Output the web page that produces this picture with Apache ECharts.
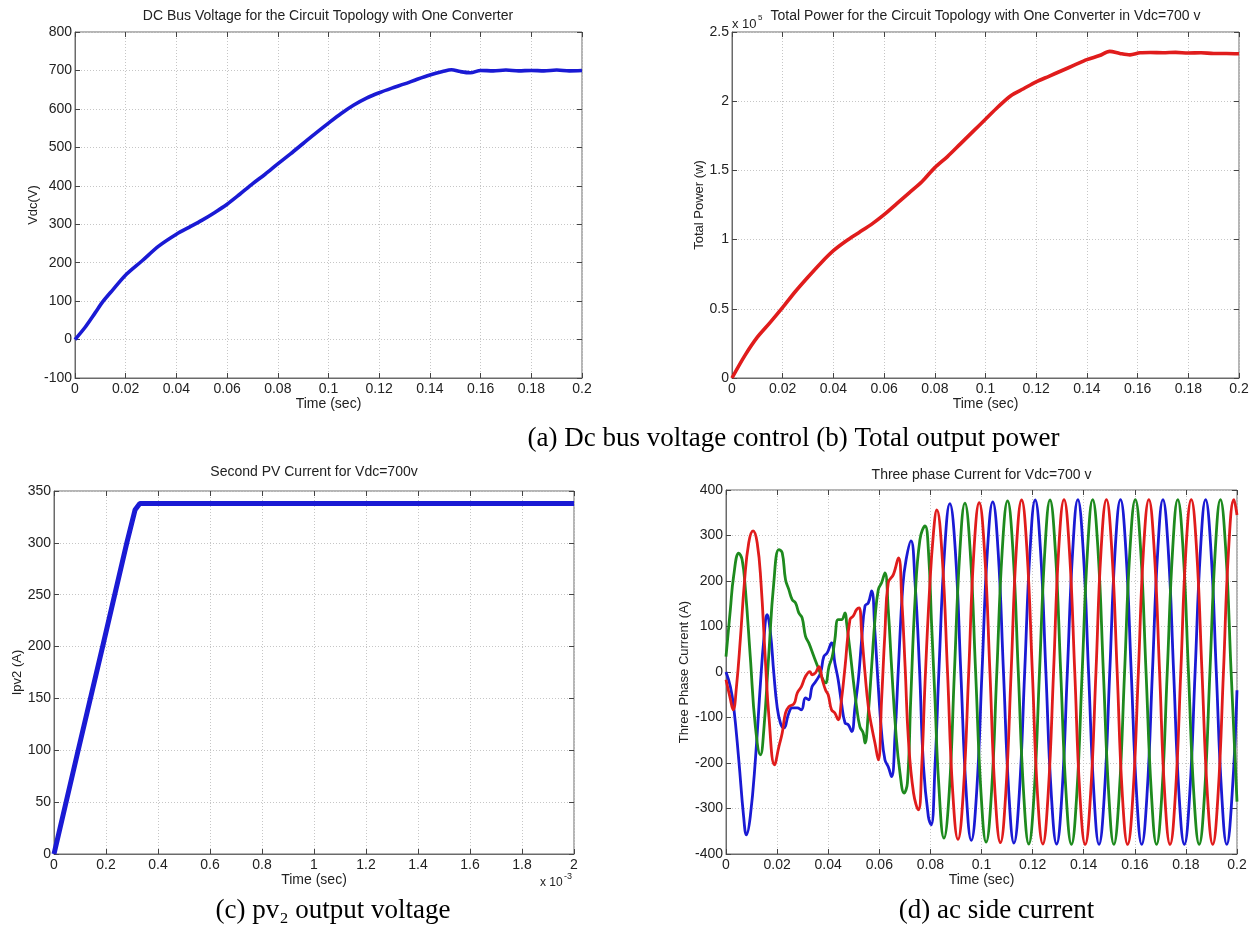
<!DOCTYPE html>
<html><head><meta charset="utf-8">
<script src="https://cdn.jsdelivr.net/npm/echarts@6/dist/echarts.min.js"></script>
<style>html,body{margin:0;padding:0;background:#fff}#c{width:1253px;height:930px}</style>
</head><body><div id="c"></div>
<script>
// ---------- DATA ----------
// (a) DC bus voltage [time s, Vdc V]
const vdcData = [[0,0],[0.004,32],[0.008,70],[0.0109,98],[0.015,130],[0.02,168],[0.0265,205],[0.033,243],[0.04,274],[0.045,292],[0.05,310],[0.055,330],[0.06,352],[0.065,378],[0.07,405],[0.075,430],[0.08,457],[0.085,483],[0.09,510],[0.095,537],[0.1,563],[0.105,588],[0.11,610],[0.115,628],[0.12,642],[0.125,654],[0.13,665],[0.135,677],[0.14,688],[0.145,697],[0.1485,702],[0.152,697],[0.156,694],[0.16,700],[0.165,699],[0.17,701],[0.175,699],[0.18,700],[0.185,699],[0.19,701],[0.195,699],[0.2,700]];
// (b) Total power [time s, W]
const powerData = [[0,0],[0.005,16000],[0.01,29500],[0.015,40000],[0.02,51000],[0.025,62500],[0.03,73000],[0.035,83000],[0.04,92000],[0.045,99000],[0.05,105000],[0.055,111000],[0.06,118000],[0.065,126000],[0.07,134000],[0.075,142000],[0.08,152000],[0.085,160000],[0.09,169000],[0.095,178000],[0.1,187000],[0.105,196000],[0.11,204000],[0.115,209000],[0.12,214000],[0.125,218000],[0.13,222000],[0.135,226000],[0.14,230000],[0.145,233000],[0.149,236000],[0.153,234500],[0.157,233500],[0.161,235000],[0.165,235200],[0.17,235000],[0.175,235300],[0.18,234800],[0.185,235000],[0.19,234500],[0.195,234500],[0.2,234300]];
// (c) Second PV current [time s, A]
const ipvData = [[0,0],[0.000093,100],[0.000187,200],[0.00028,300],[0.000312,332],[0.00033,338],[0.0006,338],[0.001,338],[0.0016,338],[0.002,338]];
// (d) Three-phase currents [time s, A]
const currentBlue = [[0,0],[0.0017,-32],[0.0030,-76],[0.0050,-193],[0.0069,-318],[0.0080,-358],[0.0095,-318],[0.0115,-193],[0.0135,-24],[0.0148,71],[0.0161,126],[0.0174,86],[0.0187,-2],[0.0200,-76],[0.0213,-112],[0.0226,-123],[0.0246,-90],[0.0259,-79],[0.0279,-79],[0.0295,-83],[0.0311,-57],[0.0324,-61],[0.0337,-32],[0.0351,-21],[0.0370,-2],[0.0383,34],[0.0396,42],[0.0413,64],[0.0426,20],[0.0439,-17],[0.0452,-68],[0.0466,-112],[0.0479,-116],[0.0492,-131],[0.0505,-76],[0.0518,-17],[0.0531,71],[0.0544,145],[0.0557,152],[0.0570,178],[0.0583,86],[0.0596,-32],[0.0609,-134],[0.0622,-193],[0.0635,-208],[0.0648,-230],[0.0662,-134],[0.0675,12],[0.0692,189],[0.0705,247],[0.0724,288],[0.0740,196],[0.0757,12],[0.0773,-208],[0.0792,-318],[0.0803,-336],[0.0818,-208],[0.0834,12],[0.0855,262],[0.0876,370],
[0.0898,263],[0.0919,0],[0.0940,-263],[0.0960,-370],[0.0981,-264],[0.1002,0],[0.1023,265],[0.1044,374],
[0.1065,266],[0.1086,0],[0.1107,-266],[0.1127,-376],[0.1148,-267],[0.1169,0],[0.1190,267],[0.1210,378],
[0.1231,267],[0.1252,0],[0.1273,-267],[0.1294,-378],[0.1315,-267],[0.1336,0],[0.1357,267],[0.1377,379],
[0.1398,268],[0.1419,0],[0.1440,-268],[0.1460,-379],[0.1481,-268],[0.1502,0],[0.1523,268],[0.1544,379],
[0.1565,268],[0.1586,0],[0.1607,-268],[0.1627,-379],[0.1648,-268],[0.1669,0],[0.1690,268],[0.1710,379],
[0.1731,268],[0.1752,0],[0.1773,-268],[0.1794,-379],[0.1815,-268],[0.1836,0],[0.1857,268],[0.1877,379],
[0.1898,268],[0.1919,0],[0.1940,-268],[0.1960,-379],[0.1981,-268],[0.2000,-40]];
const currentGreen = [[0,34],[0.0017,137],[0.0030,211],[0.0050,261],[0.0063,247],[0.0076,181],[0.0095,34],[0.0115,-120],[0.0135,-182],[0.0148,-127],[0.0167,34],[0.0187,196],[0.0207,269],[0.0220,262],[0.0233,203],[0.0246,181],[0.0259,159],[0.0272,152],[0.0285,130],[0.0298,119],[0.0311,79],[0.0324,64],[0.0344,34],[0.0364,5],[0.0383,-21],[0.0390,-24],[0.0403,12],[0.0416,34],[0.0426,71],[0.0439,115],[0.0452,115],[0.0466,130],[0.0472,108],[0.0485,49],[0.0498,-17],[0.0511,-76],[0.0524,-120],[0.0537,-134],[0.0544,-156],[0.0557,-90],[0.0570,12],[0.0583,115],[0.0596,181],[0.0609,196],[0.0622,218],[0.0635,137],[0.0648,12],[0.0665,-134],[0.0681,-222],[0.0697,-266],[0.0710,-244],[0.0723,-61],[0.0740,159],[0.0759,291],[0.0779,321],[0.0792,269],[0.0805,101],[0.0818,-61],[0.0832,-240],[0.0853,-365],
[0.0874,-262],[0.0894,0],[0.0915,262],[0.0935,371],[0.0956,264],[0.0977,0],[0.0998,-265],[0.1018,-374],
[0.1039,-266],[0.1060,0],[0.1081,266],[0.1102,376],[0.1123,267],[0.1144,0],[0.1165,-267],[0.1185,-378],
[0.1206,-267],[0.1227,0],[0.1248,267],[0.1268,378],[0.1289,267],[0.1310,0],[0.1331,-267],[0.1352,-379],
[0.1373,-268],[0.1394,0],[0.1415,268],[0.1435,379],[0.1456,268],[0.1477,0],[0.1498,-268],[0.1518,-379],
[0.1539,-268],[0.1560,0],[0.1581,268],[0.1602,379],[0.1623,268],[0.1644,0],[0.1665,-268],[0.1685,-379],
[0.1706,-268],[0.1727,0],[0.1748,268],[0.1768,379],[0.1789,268],[0.1810,0],[0.1831,-268],[0.1852,-379],
[0.1873,-268],[0.1894,0],[0.1915,268],[0.1935,379],[0.1956,268],[0.1977,0],[0.2000,-285]];
const currentRed = [[0,-17],[0.0015,-54],[0.0028,-83],[0.0041,-32],[0.0056,71],[0.0072,196],[0.0089,284],[0.0106,310],[0.0122,284],[0.0137,196],[0.0154,27],[0.0168,-98],[0.0190,-204],[0.0207,-164],[0.0220,-134],[0.0233,-90],[0.0246,-76],[0.0266,-70],[0.0279,-46],[0.0295,-32],[0.0311,-10],[0.0328,1],[0.0337,-6],[0.0350,-2],[0.0364,12],[0.0377,-17],[0.0390,-40],[0.0400,-50],[0.0413,-83],[0.0426,-90],[0.0439,-105],[0.0452,-61],[0.0466,12],[0.0485,115],[0.0498,123],[0.0511,137],[0.0521,141],[0.0531,86],[0.0544,-2],[0.0557,-76],[0.0570,-120],[0.0583,-156],[0.0596,-193],[0.0609,-61],[0.0622,86],[0.0635,196],[0.0655,214],[0.0675,251],[0.0688,159],[0.0701,12],[0.0714,-149],[0.0734,-266],[0.0753,-303],[0.0766,-208],[0.0779,-24],[0.0796,174],[0.0812,306],[0.0825,356],
[0.0846,255],[0.0867,0],[0.0887,-260],[0.0908,-368],[0.0929,-262],[0.0950,0],[0.0970,263],[0.0991,372],
[0.1012,264],[0.1033,0],[0.1053,-266],[0.1074,-375],[0.1095,-266],[0.1116,0],[0.1136,267],[0.1157,378],
[0.1178,267],[0.1199,0],[0.1219,-267],[0.1240,-378],[0.1261,-267],[0.1282,0],[0.1302,268],[0.1323,379],
[0.1344,268],[0.1365,0],[0.1385,-268],[0.1406,-379],[0.1427,-268],[0.1448,0],[0.1468,268],[0.1489,379],
[0.1510,268],[0.1531,0],[0.1551,-268],[0.1572,-379],[0.1593,-268],[0.1614,0],[0.1634,268],[0.1655,379],
[0.1676,268],[0.1697,0],[0.1717,-268],[0.1738,-379],[0.1759,-268],[0.1780,0],[0.1800,268],[0.1821,379],
[0.1842,268],[0.1863,0],[0.1884,-268],[0.1905,-379],[0.1926,-268],[0.1947,0],[0.1967,268],[0.1988,379],[0.2000,345]];

// Texts
const titles = ['DC Bus Voltage for the Circuit Topology with One Converter',
  'Total Power for the Circuit Topology with One Converter in Vdc=700 v',
  'Second PV Current for Vdc=700v',
  'Three phase Current for Vdc=700 v'];
const yNames = ['Vdc(V)', 'Total Power (w)', 'Ipv2 (A)', 'Three Phase Current (A)'];
const xName = 'Time (sec)';
const captions = ['(a) Dc bus voltage control (b) Total output power', '(c) pv\u2082 output voltage', '(d) ac side current'];

// ---------- STYLE / LAYOUT ----------
const SANS = '"Liberation Sans", Arial, Helvetica, sans-serif';
const SERIF = '"Liberation Serif", "Times New Roman", serif';
const TXT = '#222';
const AXC = '#6a6a6a';
const GRIDC = '#c6c6c6';
const BLUE = '#1a1ad4', RED = '#e01c1c', GREEN = '#1e8a1e';

const grids = [
  {left:75, top:32, width:507, height:346},
  {left:732, top:32, width:507, height:346},
  {left:54, top:491, width:520, height:363},
  {left:726, top:490, width:511, height:364}
];
const xCfg = [
  {min:0, max:0.2, interval:0.02, fmt:v=>String(Math.round(v*100)/100), gap:17},
  {min:0, max:0.2, interval:0.02, fmt:v=>String(Math.round(v*100)/100), gap:17},
  {min:0, max:0.002, interval:0.0002, fmt:v=>String(Math.round(v*1e4)/10), gap:16},
  {min:0, max:0.2, interval:0.02, fmt:v=>String(Math.round(v*100)/100), gap:16}
];
const yCfg = [
  {min:-100, max:800, interval:100, fmt:v=>String(v), gap:33},
  {min:0, max:250000, interval:50000, fmt:v=>String(Math.round(v/1e4)/10), gap:26},
  {min:0, max:350, interval:50, fmt:v=>String(v), gap:30},
  {min:-400, max:400, interval:100, fmt:v=>String(v), gap:34}
];

const gridOpt = grids.map(g => Object.assign({show:true, borderColor:AXC, borderWidth:1, backgroundColor:'#fff', containLabel:false, outerBoundsMode:'none'}, g));
const xAxes = [], yAxes = [];
xCfg.forEach((c, i) => {
  xAxes.push({type:'value', gridIndex:i, min:c.min, max:c.max, interval:c.interval, position:'bottom',
    name:xName, nameLocation:'middle', nameGap:c.gap,
    nameTextStyle:{fontFamily:SANS, fontSize:14, color:TXT},
    axisLine:{show:true, onZero:false, lineStyle:{color:AXC}},
    axisTick:{show:true, inside:true, length:5, lineStyle:{color:'#444'}},
    axisLabel:{margin:4, fontFamily:SANS, fontSize:14, color:TXT, formatter:c.fmt, showMinLabel:true, showMaxLabel:true},
    splitLine:{show:true, lineStyle:{color:GRIDC, type:[1,2], width:1}}});
});
xCfg.forEach((c, i) => {
  xAxes.push({type:'value', gridIndex:i, min:c.min, max:c.max, interval:c.interval, position:'top',
    axisLine:{show:false, onZero:false}, axisTick:{show:true, inside:true, length:5, lineStyle:{color:'#444'}},
    axisLabel:{show:false}, splitLine:{show:false}});
});
yCfg.forEach((c, i) => {
  yAxes.push({type:'value', gridIndex:i, min:c.min, max:c.max, interval:c.interval, position:'left',
    name:yNames[i], nameLocation:'middle', nameGap:c.gap,
    nameTextStyle:{fontFamily:SANS, fontSize:13, color:TXT},
    axisLine:{show:true, onZero:false, lineStyle:{color:AXC}},
    axisTick:{show:true, inside:true, length:5, lineStyle:{color:'#444'}},
    axisLabel:{margin:3, fontFamily:SANS, fontSize:14, color:TXT, formatter:c.fmt, showMinLabel:true, showMaxLabel:true},
    splitLine:{show:true, lineStyle:{color:GRIDC, type:[1,2], width:1}}});
});
yCfg.forEach((c, i) => {
  yAxes.push({type:'value', gridIndex:i, min:c.min, max:c.max, interval:c.interval, position:'right',
    axisLine:{show:false, onZero:false}, axisTick:{show:true, inside:true, length:5, lineStyle:{color:'#444'}},
    axisLabel:{show:false}, splitLine:{show:false}});
});

function line(idx, data, color, width, smooth, name) {
  return {type:'line', name, xAxisIndex:idx, yAxisIndex:idx, data, showSymbol:false, symbol:'none',
    smooth, lineStyle:{color, width}, itemStyle:{color}, emphasis:{disabled:true}, animation:false, clip:true};
}
const series = [
  line(0, vdcData, BLUE, 3.6, 0.3, 'Vdc'),
  line(1, powerData, RED, 3.6, 0.3, 'P'),
  line(2, ipvData, BLUE, 5, false, 'Ipv2'),
  line(3, currentBlue, BLUE, 2.8, 0.45, 'Ia'),
  line(3, currentGreen, GREEN, 2.8, 0.45, 'Ib'),
  line(3, currentRed, RED, 2.8, 0.45, 'Ic')
];

function txt(text, x, y, size, family, align, color) {
  return {type:'text', x, y, silent:true, z:100,
    style:{text, fontSize:size, fontFamily:family, fill:color||TXT,
      align:align, textAlign:align, verticalAlign:'middle', textVerticalAlign:'middle'}};
}
const graphic = [
  txt(titles[0], 328, 16, 14, SANS, 'center'),
  txt(titles[1], 985.5, 16, 14, SANS, 'center'),
  txt(titles[2], 314, 472, 14, SANS, 'center'),
  txt(titles[3], 981.5, 475, 14, SANS, 'center'),
  txt('x 10', 732, 24, 13, SANS, 'left'),
  txt('5', 758, 18, 8, SANS, 'left'),
  txt('x 10', 540, 883, 12, SANS, 'left'),
  txt('-3', 564, 877, 9, SANS, 'left'),
  txt(captions[0], 793.5, 439, 27, SERIF, 'center', '#000'),
  txt(captions[1], 333, 911, 27, SERIF, 'center', '#000'),
  txt(captions[2], 996.5, 911, 27, SERIF, 'center', '#000')
];

const chart = echarts.init(document.getElementById('c'), null, {renderer:'canvas'});
chart.setOption({
  animation:false,
  backgroundColor:'#fff',
  grid:gridOpt, xAxis:xAxes, yAxis:yAxes, series, graphic
});
</script>
</body></html>
